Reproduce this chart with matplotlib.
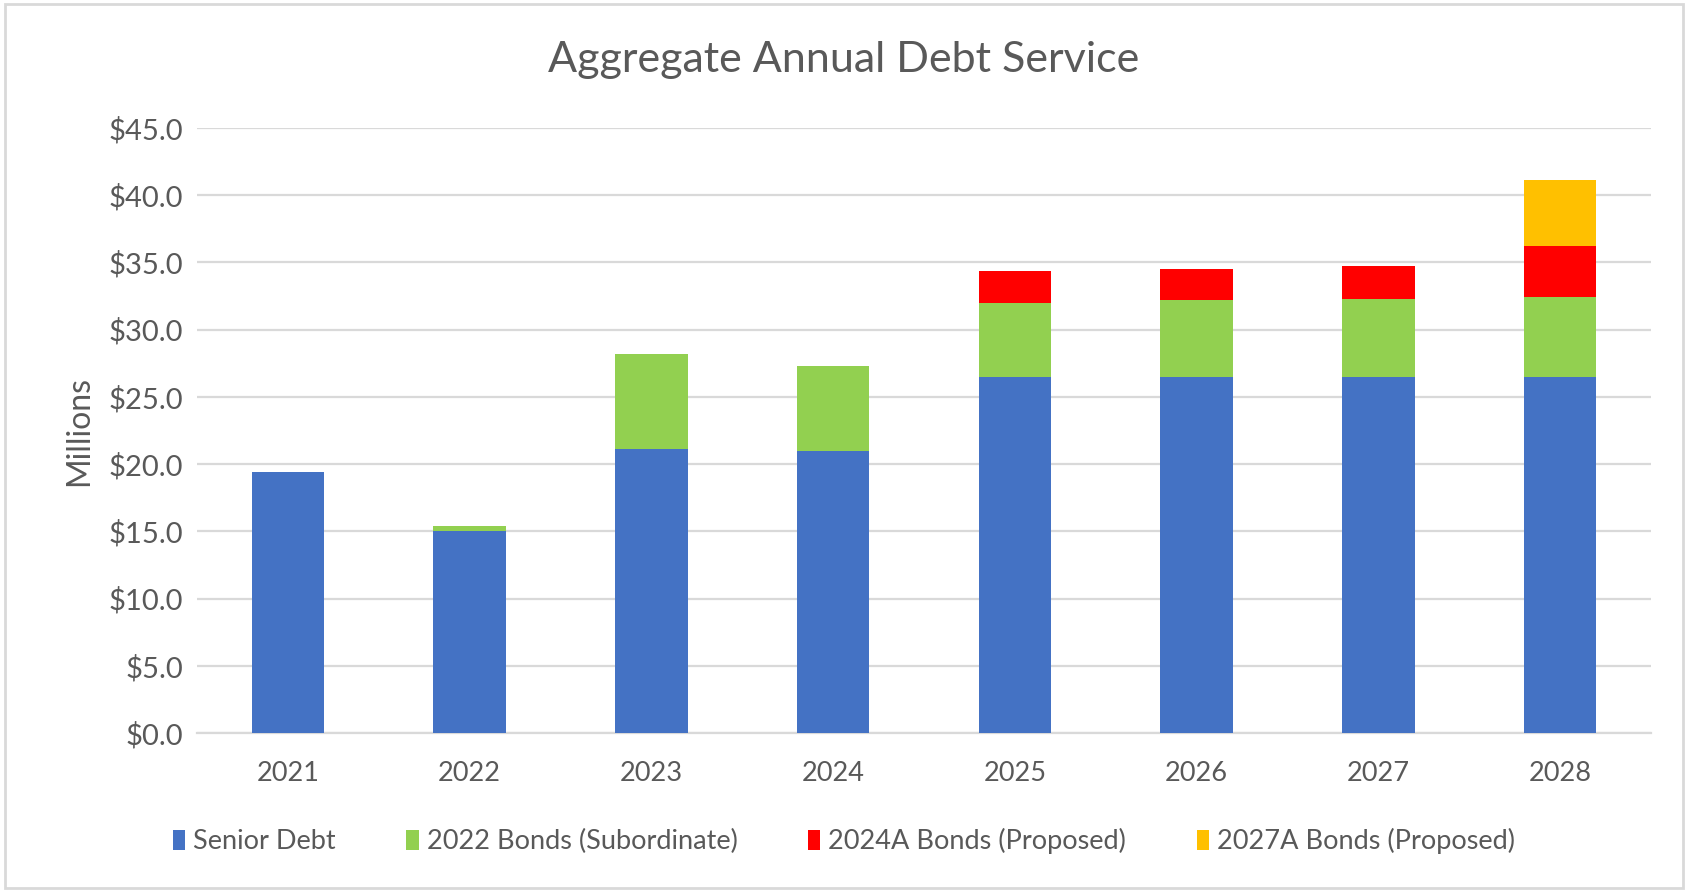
import numpy as np
import matplotlib.pyplot as plt
from matplotlib.patches import Rectangle
from matplotlib.ticker import FuncFormatter

plt.rcParams['font.family'] = ['Lato', 'DejaVu Sans']

years = ["2021", "2022", "2023", "2024", "2025", "2026", "2027", "2028"]
senior_debt = [19.4, 15.0, 21.1, 21.0, 26.5, 26.5, 26.5, 26.5]
bonds_2022 = [0.0, 0.4, 7.1, 6.3, 5.5, 5.7, 5.8, 5.95]
bonds_2024a = [0.0, 0.0, 0.0, 0.0, 2.4, 2.3, 2.4, 3.8]
bonds_2027a = [0.0, 0.0, 0.0, 0.0, 0.0, 0.0, 0.0, 4.85]

series = [
    ("Senior Debt", senior_debt, "#4472C4"),
    ("2022 Bonds (Subordinate)", bonds_2022, "#92D050"),
    ("2024A Bonds (Proposed)", bonds_2024a, "#FF0000"),
    ("2027A Bonds (Proposed)", bonds_2027a, "#FFC000"),
]

text_color = "#595959"
grid_color = "#D9D9D9"

fig = plt.figure(figsize=(16.88, 8.92), dpi=100)
ax = fig.add_axes([197 / 1688, 1 - 733 / 892, (1651 - 197) / 1688, (733 - 128) / 892])

x = np.arange(len(years))
bottom = np.zeros(len(years))
for label, vals, color in series:
    vals = np.array(vals)
    ax.bar(x, vals, width=0.4, bottom=bottom, color=color, label=label, zorder=3)
    bottom += vals

ax.set_xlim(-0.5, len(years) - 0.5)
ax.set_ylim(0, 45)
ax.set_yticks(np.arange(0, 46, 5))
ax.yaxis.set_major_formatter(FuncFormatter(lambda v, p: f"${v:.1f}"))
ax.set_xticks(x)
ax.set_xticklabels(years)

ax.grid(axis="y", color=grid_color, linewidth=1.6, zorder=0)
for s in ["top", "right", "left"]:
    ax.spines[s].set_visible(False)
ax.spines["bottom"].set_color(grid_color)
ax.spines["bottom"].set_linewidth(1.6)
ax.tick_params(axis="both", length=0, labelsize=19.5, colors=text_color)
ax.tick_params(axis="y", labelsize=21, pad=10)
ax.tick_params(axis="x", pad=20)

ax.set_ylabel("Millions", fontsize=23, color=text_color, labelpad=10)

fig.text(0.5, 1 - 60 / 892, "Aggregate Annual Debt Service", ha="center", va="center",
         fontsize=31, color=text_color)

leg = fig.legend(loc="center", bbox_to_anchor=(0.5, 1 - 841 / 892), ncol=4,
                 frameon=False, fontsize=19.5, handlelength=0.45, handleheight=0.75,
                 handletextpad=0.3, columnspacing=2.6, labelcolor=text_color)

# chart border
fig.patches.append(Rectangle((0.003, 0.004), 0.994, 0.992, transform=fig.transFigure,
                             fill=False, edgecolor="#D9D9D9", linewidth=2))

fig.savefig("out.png", dpi=100)
